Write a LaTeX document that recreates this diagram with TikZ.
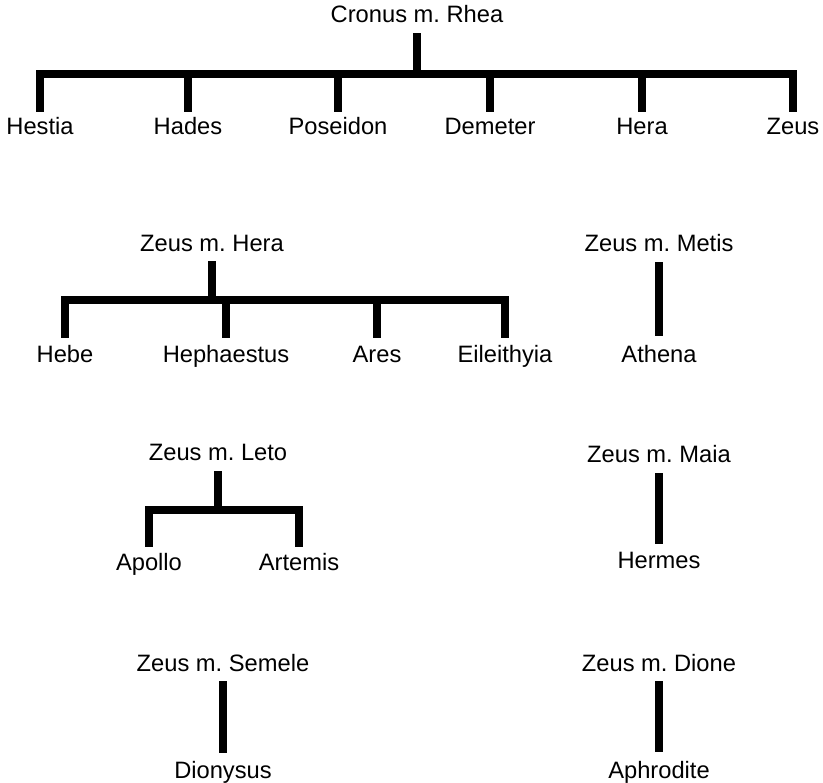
\documentclass[tikz,border=0pt]{standalone}
\usepackage{fontspec}
\setmainfont{Liberation Sans}
\usetikzlibrary{calc}
\frenchspacing

\begin{document}
\begin{tikzpicture}[x=1pt, y=-1pt,
    god/.style={anchor=base, inner sep=0pt, text height=17pt, text depth=0pt,
                font=\fontsize{23.7}{28}\selectfont},
    tie/.style={line width=7.6pt, line join=miter}]
    \useasboundingbox (0,0) rectangle (823,783);

    % Cronus and Rhea
    \node[god] (cr) at (417,23) {Cronus m. Rhea};
    \node[god] (hes) at (40,135) {Hestia};
    \node[god] (had) at (188,135) {Hades};
    \node[god] (pos) at (338,135) {Poseidon};
    \node[god] (dem) at (490,135) {Demeter};
    \node[god] (her) at (642,135) {Hera};
    \node[god] (zeu) at (793,135) {Zeus};
    \coordinate (crj) at (417,74);
    \draw[tie] ([yshift=-10pt]cr.south) -- (crj);
    \foreach \c in {hes,had,pos,dem,her,zeu}
        \draw[tie] (crj) -| ([yshift=6pt]\c.north);

    % Zeus and Hera
    \node[god] (zh) at (212,252) {Zeus m. Hera};
    \node[god] (heb) at (65,363) {Hebe};
    \node[god] (hep) at (226,363) {Hephaestus};
    \node[god] (are) at (377,363) {Ares};
    \node[god] (eil) at (505,363) {Eileithyia};
    \coordinate (zhj) at (212,300);
    \draw[tie] ([yshift=-9pt]zh.south) -- (zhj);
    \foreach \c in {heb,hep,are,eil}
        \draw[tie] (zhj) -| ([yshift=8pt]\c.north);

    % Zeus and Leto
    \node[god] (zl) at (218,461) {Zeus m. Leto};
    \node[god] (apo) at (149,571) {Apollo};
    \node[god] (art) at (299,571) {Artemis};
    \coordinate (zlj) at (218,510);
    \draw[tie] ([yshift=-10pt]zl.south) -- (zlj);
    \foreach \c in {apo,art}
        \draw[tie] (zlj) -| ([yshift=7pt]\c.north);

    % Zeus and Semele
    \node[god] (zs) at (223,672) {Zeus m. Semele};
    \node[god] (dio) at (223,778) {Dionysus};
    \draw[tie] ([yshift=-9pt]zs.south) -- ([yshift=8pt]dio.north);

    % Zeus and Metis, Maia, Dione
    \node[god] (zme) at (659,252) {Zeus m. Metis};
    \node[god] (ath) at (659,363) {Athena};
    \draw[tie] ([yshift=-10pt]zme.south) -- ([yshift=10pt]ath.north);
    \node[god] (zma) at (659,463) {Zeus m. Maia};
    \node[god] (hrm) at (659,569) {Hermes};
    \draw[tie] ([yshift=-10pt]zma.south) -- ([yshift=8pt]hrm.north);
    \node[god] (zdi) at (659,672) {Zeus m. Dione};
    \node[god] (aph) at (659,778) {Aphrodite};
    \draw[tie] ([yshift=-9pt]zdi.south) -- ([yshift=9pt]aph.north);
\end{tikzpicture}
\end{document}
